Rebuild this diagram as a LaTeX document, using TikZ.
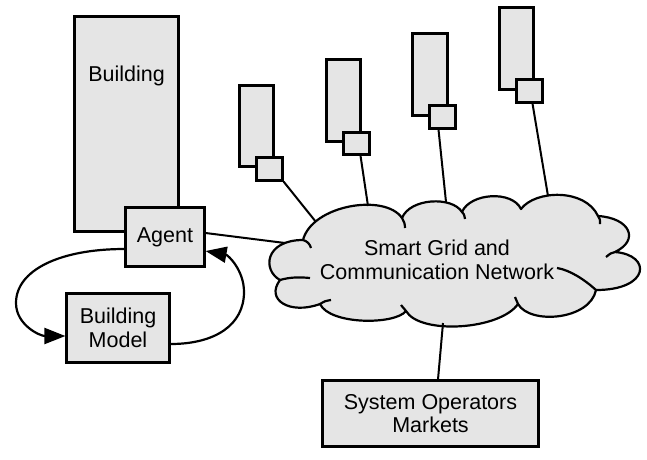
\documentclass[tikz,border=0pt]{standalone}
\usepackage{fontspec}
\setmainfont{Liberation Sans}
\usetikzlibrary{arrows.meta,calc}
\definecolor{boxgray}{RGB}{229,229,229}
\begin{document}
\begin{tikzpicture}[x=1pt,y=-1pt,
  line width=2.2pt,
  every node/.style={font=\fontsize{21.5}{23.5}\selectfont},
  box/.style={draw=black,fill=boxgray,inner sep=0pt,align=center,line width=2.2pt},
  link/.style={draw=black,line width=2pt},
  flow/.style={draw=black,line width=2.2pt,-{Triangle[length=21pt,width=16pt]}}]
\useasboundingbox (0,0) rectangle (647,459);

% main building with agent
\node[box,minimum width=104pt,minimum height=215pt] (bld) at (126.5,124) {};
\node at (126.5,76) (bldlabel) {Building};
\node[box,minimum width=79pt,minimum height=59pt] (agent) at (165,237) {Agent};
\node[box,minimum width=103pt,minimum height=69pt] (bm) at (118,328) {Building\\Model};

% other buildings
\node[box,minimum width=34pt,minimum height=81pt] (b1) at (256.5,126) {};
\node[box,minimum width=26pt,minimum height=23pt] (s1) at (269.5,169) {};
\node[box,minimum width=34pt,minimum height=82pt] (b2) at (343.5,100.5) {};
\node[box,minimum width=26pt,minimum height=22pt] (s2) at (356.5,143.5) {};
\node[box,minimum width=35pt,minimum height=82pt] (b3) at (430,74.5) {};
\node[box,minimum width=26pt,minimum height=23pt] (s3) at (442.5,117) {};
\node[box,minimum width=34pt,minimum height=82pt] (b4) at (516.5,48.5) {};
\node[box,minimum width=26pt,minimum height=23pt] (s4) at (529.5,91) {};

% system operators
\node[box,minimum width=216pt,minimum height=66pt] (sys) at (430.5,413.5) {System Operators\\Markets};

% cloud
\coordinate (P1) at (303,240);
\coordinate (P2) at (402,218);
\coordinate (P3) at (462,212);
\coordinate (P4) at (521,209);
\coordinate (P5) at (598,216);
\coordinate (P6) at (615,252);
\coordinate (P7) at (596,290);
\coordinate (P8) at (518,304);
\coordinate (P9) at (406,311);
\coordinate (P10) at (320,304);
\coordinate (P11) at (280,280);
\path[draw=black,fill=boxgray,line width=2.2pt,line join=round]
  (P1) .. controls (312,205) and (385,193) .. (P2)
       .. controls (410,198) and (452,196) .. (P3)
       .. controls (470,193) and (512,190) .. (P4)
       .. controls (535,190) and (585,188) .. (P5)
       .. controls (630,218) and (640,240) .. (P6)
       .. controls (652,255) and (650,290) .. (P7)
       .. controls (590,320) and (530,325) .. (P8)
       .. controls (500,330) and (420,335) .. (P9)
       .. controls (395,325) and (330,325) .. (P10)
       .. controls (290,315) and (265,300) .. (P11)
       .. controls (262,270) and (265,240) .. cycle;
% inner curls
\draw (P1) .. controls (307,241) and (310,244) .. (311,248);
\draw (P2) .. controls (404,221) and (405,224) .. (405,228);
\draw (P3) .. controls (464,214) .. (465,219);
\draw (P5) .. controls (600,219) .. (600,224);
\draw (P6) .. controls (611,253) .. (606,257);
\draw (P7) .. controls (585,280) and (570,270) .. (557,268);
\draw (P8) .. controls (517,301) .. (515,297);
\draw (P9) .. controls (404,308) .. (401,305);
\draw (P10) .. controls (325,301) .. (331,300);
\draw (P11) .. controls (290,277) and (300,277) .. (310,278);
\node[align=center] (cloudlabel) at (437,260) {Smart Grid and\\Communication Network};

% connection points on the cloud
\coordinate (clA) at (285,243);
\coordinate (cl1) at (316,222);
\coordinate (cl2) at (368,206);
\coordinate (cl3) at (446,202);
\coordinate (cl4) at (548,196);
\coordinate (clB) at (443,323);

% connectors
\draw[link] ([yshift=4pt]agent.east) -- (clA);
\draw[link] (s1.south east) -- (cl1);
\draw[link] ([xshift=4pt]s2.south) -- (cl2);
\draw[link] ([xshift=-4pt]s3.south) -- (cl3);
\draw[link] ([xshift=3pt]s4.south) -- (cl4);
\draw[link] (clB) -- ([xshift=7.5pt]sys.north);

% feedback loop
\draw[flow] ([yshift=-12pt]agent.west) .. controls (60,249) and (16,270) .. (16,303)
   .. controls (16,325) and (40,336) .. ([yshift=-8pt]bm.west);
\draw[flow] ([yshift=-16pt]bm.east) .. controls (215,344) and (244,325) .. (244,292)
   .. controls (244,270) and (228,255) .. ([yshift=-14pt]agent.east);
\end{tikzpicture}
\end{document}
